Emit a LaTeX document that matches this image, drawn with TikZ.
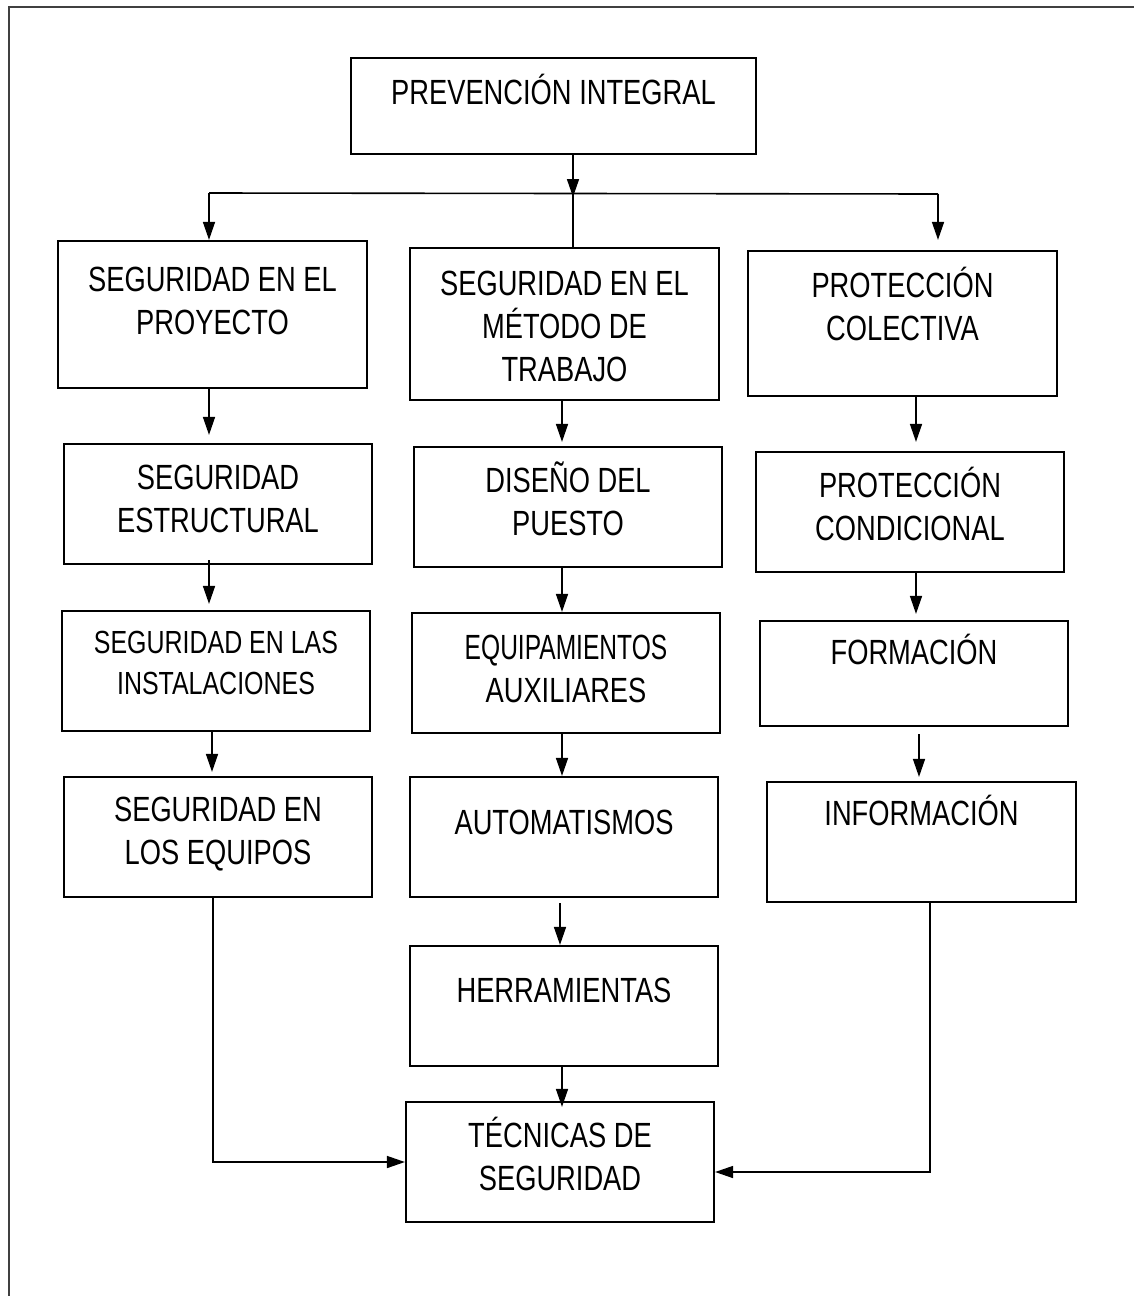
\documentclass[tikz,border=0pt]{standalone}
\usepackage{fontspec}
\setmainfont{Liberation Sans}[FakeStretch=0.78]
\usetikzlibrary{arrows.meta}
\newcommand\bt[4]{\parbox[c][#1][t]{#2}{\centering\vspace*{\dimexpr#3-1em\relax}\rule{0pt}{1em}#4\par}}
\begin{document}
\begin{tikzpicture}[x=0.5pt,y=-0.5pt,
  box/.style={draw=black, line width=1.1pt, inner sep=0pt, fill=white},
  arr/.style={draw=black, line width=0.8pt, -{Triangle[length=9pt,width=6pt]}},
  ln/.style={draw=black, line width=0.8pt},
  frame/.style={draw=black!75, line width=1pt}]
\useasboundingbox (0,0) rectangle (1134,1296);
\fontsize{17.5pt}{21.5pt}\selectfont
% outer frame (top and left edges)
\draw[frame] (9,1296) -- (9,7) -- (1134,7);

% boxes: centre = ((x1+x2)/2,(y1+y2)/2), size in pt = px/2
\node[box] (P)  at (553.5,106)  {\bt{48pt}{202.5pt}{23.25pt}{PREVENCIÓN INTEGRAL}};
\node[box] (A1) at (212.5,314.5) {\bt{73.5pt}{154.5pt}{25.25pt}{SEGURIDAD EN EL\\PROYECTO}};
\node[box] (B1) at (564.5,324)  {\bt{76pt}{154.5pt}{23.75pt}{SEGURIDAD EN EL\\MÉTODO DE\\TRABAJO}};
\node[box] (C1) at (902.5,323.5) {\bt{72.5pt}{154.5pt}{23.25pt}{PROTECCIÓN\\COLECTIVA}};
\node[box] (A2) at (218,504)    {\bt{60pt}{154pt}{22.75pt}{SEGURIDAD\\ESTRUCTURAL}};
\node[box] (B2) at (568,507)    {\bt{60pt}{154pt}{22.75pt}{DISEÑO DEL\\PUESTO}};
\node[box] (C2) at (910,512)    {\bt{60pt}{154pt}{22.75pt}{PROTECCIÓN\\CONDICIONAL}};
\node[box] (A3) at (216,671)    {\fontsize{16pt}{20.5pt}\selectfont\bt{60pt}{154pt}{21.25pt}{SEGURIDAD EN LAS\\INSTALACIONES}};
\node[box] (B3) at (566,673)    {\bt{60pt}{154pt}{23.25pt}{\hbox to 0pt{\hss\scalebox{0.9}[1]{EQUIPAMIENTOS}\hss}\\AUXILIARES}};
\node[box] (C3) at (914,673.5)  {\bt{52.5pt}{154pt}{21.75pt}{FORMACIÓN}};
\node[box] (A4) at (218,837)    {\bt{60pt}{154pt}{22.25pt}{SEGURIDAD EN\\LOS EQUIPOS}};
\node[box] (B4) at (564,837)    {\bt{60pt}{154pt}{28.75pt}{AUTOMATISMOS}};
\node[box] (C4) at (921.5,842)  {\bt{60pt}{154.5pt}{21.75pt}{INFORMACIÓN}};
\node[box] (B5) at (564,1006)   {\bt{60pt}{154pt}{28.25pt}{HERRAMIENTAS}};
\node[box] (B6) at (560,1162)   {\bt{60pt}{154pt}{22.75pt}{TÉCNICAS DE\\SEGURIDAD}};

% column guide coordinates
\coordinate (cA)  at (209,0);
\coordinate (cA2) at (212,0);
\coordinate (cA3) at (213,0);
\coordinate (cB)  at (562,0);
\coordinate (cB2) at (560,0);
\coordinate (cC)  at (916,0);
\coordinate (cC2) at (919,0);
\coordinate (cC3) at (930,0);
\coordinate (mid) at (573,0);
\coordinate (hl)  at (209,193);
\coordinate (hm)  at (573,193);
\coordinate (hr)  at (938,194);

% top distribution
\draw[arr] (P.south -| mid) -- ([yshift=-2pt]hm);
\draw[ln] (hl) -- (hr);
\draw[ln] (hm) -- (B1.north -| mid);
\draw[arr] (hl) -- (A1.north -| hl);
\draw[arr, shorten >=5pt] (hr) -- (C1.north -| hr);

% column A
\draw[arr, shorten >=4pt] (A1.south -| cA) -- (A2.north -| cA);
\draw[arr, shorten >=3pt] ([yshift=2.5pt]A2.south -| cA) -- (A3.north -| cA);
\draw[arr, shorten >=2pt] (A3.south -| cA2) -- (A4.north -| cA2);
\draw[arr] (A4.south -| cA3) |- (B6.west);

% column B
\draw[arr, shorten >=2pt] (B1.south -| cB) -- (B2.north -| cB);
\draw[arr] (B2.south -| cB) -- (B3.north -| cB);
\draw[arr] (B3.south -| cB) -- (B4.north -| cB);
\draw[arr] ([yshift=-2.5pt]B4.south -| cB2) -- (B5.north -| cB2);
\draw[arr, shorten >=-3pt] (B5.south -| cB) -- (B6.north -| cB);

% column C
\draw[arr, shorten >=4.5pt] (C1.south -| cC) -- (C2.north -| cC);
\draw[arr, shorten >=3pt] (C2.south -| cC) -- (C3.north -| cC);
\draw[arr, shorten >=2pt] ([yshift=-3.5pt]C3.south -| cC2) -- (C4.north -| cC2);
\draw[arr] (C4.south -| cC3) |- ([yshift=-5pt]B6.east);
\end{tikzpicture}
\end{document}
